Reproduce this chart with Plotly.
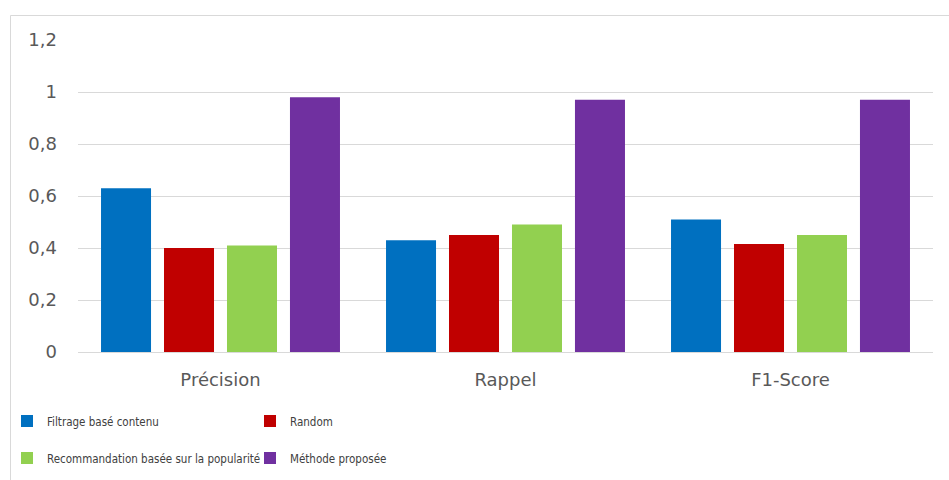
import plotly.graph_objects as go

# Evaluation metrics compared across four recommendation approaches
metrics = ["Précision", "Rappel", "F1-Score"]
methods = [
    "Filtrage basé contenu",
    "Random",
    "Recommandation basée sur la popularité",
    "Méthode proposée",
]
filtrage_contenu = [0.63, 0.43, 0.51]
random_reco = [0.40, 0.45, 0.415]
popularite = [0.41, 0.49, 0.45]
methode_proposee = [0.98, 0.97, 0.97]

series = [filtrage_contenu, random_reco, popularite, methode_proposee]
colors = ["#0070C0", "#C00000", "#92D050", "#7030A0"]
legend_ids = ["legend", "legend", "legend2", "legend2"]

y_ticks = [0, 0.2, 0.4, 0.6, 0.8, 1.0, 1.2]
y_tick_labels = ["0", "0,2", "0,4", "0,6", "0,8", "1", "1,2"]

fig = go.Figure()
for name, vals, col, lg in zip(methods, series, colors, legend_ids):
    fig.add_trace(go.Bar(
        name=name, x=metrics, y=vals,
        marker=dict(color=col, line=dict(width=0)),
        legend=lg,
    ))

W, H = 949, 480
ml, mr, mt, mb = 78, 16, 40, 128
pw, ph = W - ml - mr, H - mt - mb

def px_x(p):
    return (p - ml) / pw

def px_y(p):
    return (H - mb - p) / ph

legend_font = dict(family="DejaVu Sans Condensed, Liberation Sans Narrow, sans-serif",
                   size=11.5, color="#404040")

fig.update_layout(
    width=W, height=H,
    margin=dict(l=ml, r=mr, t=mt, b=mb, autoexpand=False),
    paper_bgcolor="white", plot_bgcolor="white",
    barmode="group", bargap=0.116, bargroupgap=0.206,
    font=dict(family="DejaVu Sans, Open Sans, sans-serif", size=18, color="#595959"),
    xaxis=dict(
        showgrid=False, showline=True, linecolor="#d9d9d9", linewidth=1,
        ticks="", ticklabelstandoff=11,
        tickfont=dict(size=18, color="#595959"),
    ),
    yaxis=dict(
        range=[0, 1.2], tickvals=y_ticks, ticktext=y_tick_labels,
        showgrid=True, gridcolor="#d9d9d9", gridwidth=1,
        zeroline=False, showline=False, ticks="", ticklabelstandoff=20,
        tickfont=dict(size=18, color="#595959"),
    ),
    legend=dict(
        orientation="h", x=px_x(7), xanchor="left", y=px_y(421), yanchor="middle",
        entrywidth=198, entrywidthmode="pixels", font=legend_font,
        bgcolor="rgba(0,0,0,0)", traceorder="normal",
    ),
    legend2=dict(
        orientation="h", x=px_x(7), xanchor="left", y=px_y(458), yanchor="middle",
        entrywidth=198, entrywidthmode="pixels", font=legend_font,
        bgcolor="rgba(0,0,0,0)", traceorder="normal",
    ),
    shapes=[dict(
        type="rect", xref="paper", yref="paper",
        x0=px_x(10.5), x1=px_x(W + 5), y0=px_y(H + 5), y1=px_y(15.5),
        line=dict(color="#d9d9d9", width=1), fillcolor="rgba(0,0,0,0)", layer="below",
    )],
)

fig.write_html("out.html")
